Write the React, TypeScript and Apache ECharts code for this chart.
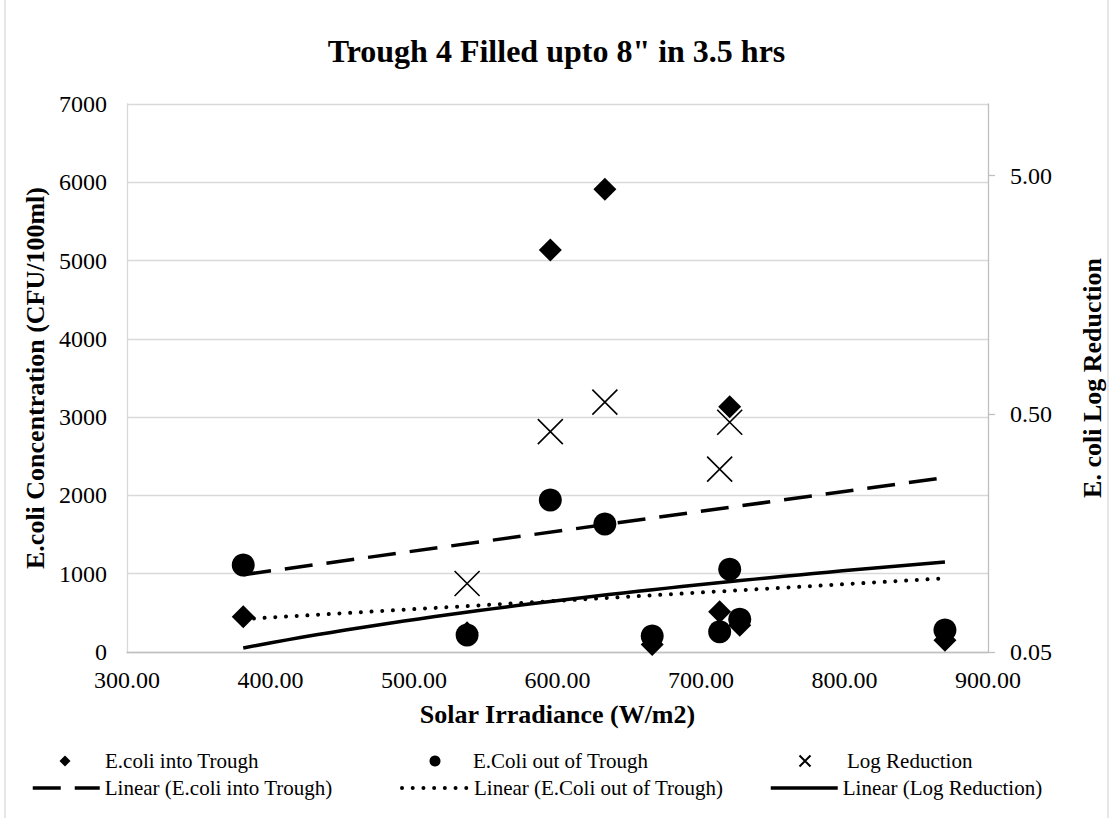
import React, { useEffect, useRef } from "react";
import * as echarts from "echarts";

// ---- data ----
const irradiance = [381, 537, 595, 633, 666, 713, 720, 727, 870];
const ecoliIn = [451, 246, 5135, 5910, 95, 515, 3133, 343, 150];
const ecoliOut = [1111, 217, 1941, 1635, 204, 259, 1056, 418, 281];
const logIrradiance = [537, 595, 633, 713, 720];
const logReduction = [0.097, 0.421, 0.56, 0.293, 0.461];
// linear trendlines (value at start / end of the fitted range)
const trendRange = [381, 870];
const trendIn = [988, 2228];
const trendOut = [421, 941];
const trendLog = [0.052, 0.1194];
// axes
const xRange = [300, 900];
const xStep = 100;
const leftRange = [0, 7000];
const leftStep = 1000;
const rightTicks = [0.05, 0.5, 5];
const rightMax = 10;

const FONT = "Liberation Serif";
const toDec = (v: number) => Math.log10(v / rightTicks[0]);

export default function App() {
  const ref = useRef<HTMLDivElement>(null);

  useEffect(() => {
    if (!ref.current) return;
    const chart = echarts.init(ref.current, undefined, { renderer: "svg" });

    const inPts = irradiance.map((x, i) => [x, ecoliIn[i]]);
    const outPts = irradiance.map((x, i) => [x, ecoliOut[i]]);
    const logPts = logIrradiance.map((x, i) => [x, toDec(logReduction[i])]);
    const trendInPts = trendRange.map((x, i) => [x, trendIn[i]]);
    const trendOutPts = trendRange.map((x, i) => [x, trendOut[i]]);
    const N = 48;
    const trendLogPts: number[][] = [];
    for (let k = 0; k <= N; k++) {
      const t = k / N;
      const x = trendRange[0] + (trendRange[1] - trendRange[0]) * t;
      const v = trendLog[0] + (trendLog[1] - trendLog[0]) * t;
      trendLogPts.push([x, toDec(v)]);
    }
    const rightTickDec = rightTicks.map(toDec);

    const legendText = {
      color: "#000",
      fontFamily: FONT,
      fontWeight: "normal",
      fontSize: 21,
      lineHeight: 24,
    };
    const markerLegend = (name: string, left: number, top: number, pad: number) => ({
      data: [name],
      left,
      top,
      padding: 0,
      itemWidth: 11,
      itemHeight: 11,
      selectedMode: false,
      itemStyle: { borderWidth: 2, opacity: 1 },
      textStyle: { ...legendText, padding: [0, 0, 0, pad] },
    });
    const lineLegend = (name: string, left: number, top: number, width: number) => ({
      data: [name],
      left,
      top,
      padding: 0,
      itemWidth: 67,
      itemHeight: 14,
      selectedMode: false,
      lineStyle: { width },
      itemStyle: { opacity: 0, color: "rgba(0,0,0,0)", borderWidth: 0 },
      textStyle: { ...legendText },
    });

    const row1 = 749;
    const row2 = 776;
    const tickText = { fontFamily: FONT, fontWeight: "normal", fontSize: 24, color: "#000" };
    const nameText = { fontFamily: FONT, fontSize: 26, fontWeight: "bold", color: "#000" };

    chart.setOption({
      animation: false,
      textStyle: { fontFamily: FONT, color: "#000" },
      title: {
        text: "Trough 4 Filled upto 8\" in 3.5 hrs",
        left: "center",
        top: 30,
        textStyle: { fontFamily: FONT, fontSize: 32, fontWeight: "bold", color: "#000" },
      },
      grid: { left: 127, right: 122, top: 104, bottom: 166 },
      legend: [
        markerLegend("E.coli into Trough", 59.5, row1, 29.5),
        markerLegend("E.Coli out of Trough", 429.5, row1, 27.5),
        markerLegend("Log Reduction", 798.5, row1, 31.5),
        lineLegend("Linear (E.coli into Trough)", 31, row2, 3.5),
        lineLegend("Linear (E.Coli out of Trough)", 400, row2, 4),
        lineLegend("Linear (Log Reduction)", 769, row2, 3.5),
      ],
      xAxis: {
        type: "value",
        min: xRange[0],
        max: xRange[1],
        interval: xStep,
        name: "Solar Irradiance (W/m2)",
        nameLocation: "middle",
        nameGap: 49,
        nameTextStyle: nameText,
        axisLine: { show: true, lineStyle: { color: "#BFBFBF", width: 1.3 } },
        axisTick: { show: false },
        splitLine: { show: false },
        axisLabel: { ...tickText, margin: 16, formatter: (v: number) => v.toFixed(2) },
      },
      yAxis: [
        {
          type: "value",
          min: leftRange[0],
          max: leftRange[1],
          interval: leftStep,
          name: "E.coli Concentration (CFU/100ml)",
          nameLocation: "middle",
          nameGap: 76,
          nameTextStyle: nameText,
          axisLine: { show: true, lineStyle: { color: "#D9D9D9", width: 1.3 } },
          axisTick: { show: false },
          splitLine: { show: true, lineStyle: { color: "#D9D9D9", width: 1.3 } },
          axisLabel: { ...tickText, margin: 20, formatter: (v: number) => String(v) },
        },
        {
          type: "value",
          position: "right",
          min: 0,
          max: toDec(rightMax),
          interval: 1,
          name: "E. coli Log Reduction",
          nameLocation: "middle",
          nameGap: 91,
          nameRotate: 90,
          nameTextStyle: nameText,
          axisLine: { show: true, lineStyle: { color: "#BFBFBF", width: 1.3 } },
          axisTick: {
            show: true,
            length: 7,
            inside: false,
            customValues: rightTickDec,
            lineStyle: { color: "#BFBFBF", width: 1.3 },
          },
          splitLine: { show: false },
          axisLabel: {
            ...tickText,
            margin: 22,
            customValues: rightTickDec,
            formatter: (v: number) => (rightTicks[0] * Math.pow(10, v)).toFixed(2),
          },
        },
      ],
      series: [
        {
          name: "E.coli into Trough",
          type: "scatter",
          symbol: "diamond",
          symbolSize: 23,
          itemStyle: { color: "#000", opacity: 1 },
          data: inPts,
          z: 2,
        },
        {
          name: "E.Coli out of Trough",
          type: "scatter",
          symbol: "circle",
          symbolSize: 23,
          itemStyle: { color: "#000", opacity: 1 },
          data: outPts,
          z: 2,
        },
        {
          name: "Log Reduction",
          type: "scatter",
          yAxisIndex: 1,
          symbol: "path://M0,0L10,10M10,0L0,10",
          symbolSize: 25,
          itemStyle: { color: "rgba(0,0,0,0)", borderColor: "#000", borderWidth: 1.6, opacity: 1 },
          data: logPts,
          z: 3,
        },
        {
          name: "Linear (E.coli into Trough)",
          type: "line",
          symbol: "none",
          data: trendInPts,
          lineStyle: { color: "#000", width: 3.5, type: [28, 14] },
          itemStyle: { color: "#000" },
          z: 4,
        },
        {
          name: "Linear (E.Coli out of Trough)",
          type: "line",
          symbol: "none",
          data: trendOutPts,
          lineStyle: { color: "#000", width: 4, type: [0.01, 10.7], cap: "round" },
          itemStyle: { color: "#000" },
          z: 4,
        },
        {
          name: "Linear (Log Reduction)",
          type: "line",
          yAxisIndex: 1,
          symbol: "none",
          data: trendLogPts,
          lineStyle: { color: "#000", width: 3.5 },
          itemStyle: { color: "#000" },
          z: 4,
        },
      ],
      graphic: [
        { type: "line", shape: { x1: 5, y1: 0, x2: 5, y2: 818 }, style: { stroke: "#D9D9D9", lineWidth: 1.3 }, silent: true },
        { type: "line", shape: { x1: 1108, y1: 0, x2: 1108, y2: 818 }, style: { stroke: "#D9D9D9", lineWidth: 1.3 }, silent: true },
      ],
    });

    return () => chart.dispose();
  }, []);

  return (
    <div
      ref={ref}
      style={{ position: "absolute", left: 0, top: 0, width: 1113, height: 818, background: "#fff" }}
    />
  );
}
